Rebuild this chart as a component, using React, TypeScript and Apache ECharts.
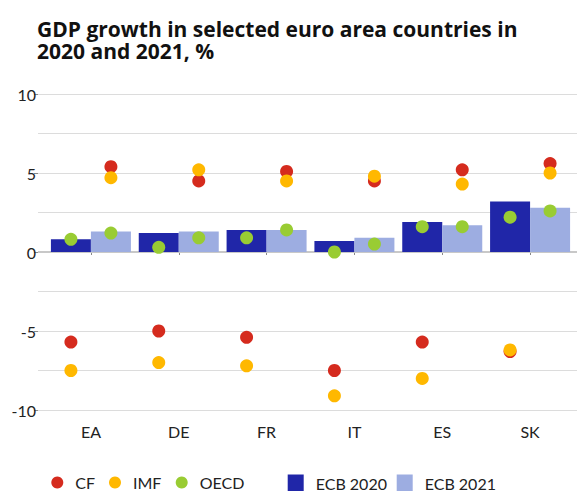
import React, { useEffect, useRef } from "react";
import * as echarts from "echarts";

const categories = ["EA", "DE", "FR", "IT", "ES", "SK"];
const ecb2020 = [0.8, 1.2, 1.4, 0.7, 1.9, 3.2];
const ecb2021 = [1.3, 1.3, 1.4, 0.9, 1.7, 2.8];
const cf2020 = [-5.7, -5.0, -5.4, -7.5, -5.7, -6.3];
const cf2021 = [5.4, 4.5, 5.1, 4.5, 5.2, 5.6];
const imf2020 = [-7.5, -7.0, -7.2, -9.1, -8.0, -6.2];
const imf2021 = [4.7, 5.2, 4.5, 4.8, 4.3, 5.0];
const oecd2020 = [0.8, 0.3, 0.9, 0.0, 1.6, 2.2];
const oecd2021 = [1.2, 0.9, 1.4, 0.5, 1.6, 2.6];
const yTicks = [-10, -5, 0, 5, 10];

const TITLE_LINES = ["GDP growth in selected euro area countries in", "2020 and 2021, %"];
const FONT = "Lato, 'Liberation Sans', sans-serif";
const TITLE_FONT = "'Open Sans', 'Liberation Sans', sans-serif";

const C_CF = "#d52b1e";
const C_IMF = "#ffb800";
const C_OECD = "#99cc33";
const C_E20 = "#2026a8";
const C_E21 = "#9dade1";

export default function App() {
  const ref = useRef<HTMLDivElement>(null);
  useEffect(() => {
    if (!ref.current) return;
    const chart = echarts.init(ref.current, null, { renderer: "svg" });
    const top = 94;
    const height = 316;
    const dot = (name: string, data: number[], color: string, off: number) => ({
      type: "scatter",
      name,
      xAxisIndex: 1,
      yAxisIndex: 2,
      data,
      symbol: "circle",
      symbolSize: 13,
      symbolOffset: [off, 0],
      itemStyle: { color, opacity: 1 },
      z: 5,
    });
    const legText = { fontSize: 16, color: "#222", fontFamily: FONT };
    const dotLegend = (name: string, left: number) => ({
      left,
      top: 474.5,
      padding: 0,
      itemWidth: 26,
      itemHeight: 12,
      icon: "circle",
      data: [name],
      textStyle: legText,
    });
    const barLegend = (name: string, left: number) => ({
      left,
      top: 474.5,
      padding: 0,
      itemWidth: 16,
      itemHeight: 17,
      icon: "rect",
      data: [name],
      textStyle: { ...legText, padding: [0, 0, 0, 7] },
    });
    const titleStyle = { fontFamily: TITLE_FONT, fontWeight: "bold", fontSize: 21, color: "#111", lineHeight: 22 };
    chart.setOption({
      animation: false,
      textStyle: { fontFamily: FONT },
      title: [
        { text: TITLE_LINES[0], left: 37, top: 18.3, padding: 0, textStyle: titleStyle },
        { text: TITLE_LINES[1], left: 37, top: 40.3, padding: 0, textStyle: titleStyle },
      ],
      grid: [
        { left: 38, right: 1, top, height },
        { left: 47, right: 4, top, height },
      ],
      xAxis: [
        { type: "value", gridIndex: 0, min: 0, max: 1, show: false },
        {
          type: "category",
          gridIndex: 1,
          data: categories,
          position: "bottom",
          offset: 7,
          axisLine: { show: false },
          axisTick: { show: true, alignWithLabel: true, length: 3, lineStyle: { color: "#888" } },
          axisLabel: { margin: 6, fontSize: 16, color: "#222", fontFamily: FONT },
        },
      ],
      yAxis: [
        {
          type: "value",
          gridIndex: 0,
          min: yTicks[0],
          max: yTicks[yTicks.length - 1],
          interval: 5,
          axisLine: { show: false },
          axisTick: { show: true, length: 4, lineStyle: { color: "#888" } },
          axisLabel: { margin: 2, fontSize: 16, color: "#222", fontFamily: FONT },
          splitLine: { show: false },
        },
        {
          type: "value",
          gridIndex: 0,
          position: "left",
          min: -10,
          max: 10,
          interval: 2.5,
          axisLine: { show: false },
          axisTick: { show: false },
          axisLabel: { show: false },
          splitLine: { show: true, lineStyle: { color: "#dcdcdc", width: 1 } },
        },
        {
          type: "value",
          gridIndex: 1,
          min: -10,
          max: 10,
          interval: 5,
          show: false,
        },
      ],
      legend: [
        dotLegend("CF", 51.3),
        dotLegend("IMF", 109),
        dotLegend("OECD", 175.7),
        barLegend("ECB 2020", 287.7),
        barLegend("ECB 2021", 396.7),
      ],
      series: [
        {
          type: "line",
          name: "zero",
          xAxisIndex: 0,
          yAxisIndex: 0,
          data: [[0, 0], [1, 0]],
          showSymbol: false,
          lineStyle: { color: "#c8c8c8", width: 2 },
          silent: true,
          z: 1,
        },
        {
          type: "bar",
          name: "ECB 2020",
          xAxisIndex: 1,
          yAxisIndex: 2,
          data: ecb2020,
          barWidth: 40,
          barGap: "0%",
          itemStyle: { color: C_E20 },
          z: 2,
        },
        {
          type: "bar",
          name: "ECB 2021",
          xAxisIndex: 1,
          yAxisIndex: 2,
          data: ecb2021,
          barWidth: 40,
          barGap: "0%",
          itemStyle: { color: C_E21 },
          z: 2,
        },
        dot("CF", cf2020, C_CF, -20),
        dot("CF", cf2021, C_CF, 20),
        dot("IMF", imf2020, C_IMF, -20),
        dot("IMF", imf2021, C_IMF, 20),
        dot("OECD", oecd2020, C_OECD, -20),
        dot("OECD", oecd2021, C_OECD, 20),
      ],
    });
    return () => chart.dispose();
  }, []);
  return (
    <div
      ref={ref}
      style={{ position: "fixed", left: 0, top: 0, width: 578, height: 491, background: "#fff" }}
    />
  );
}
